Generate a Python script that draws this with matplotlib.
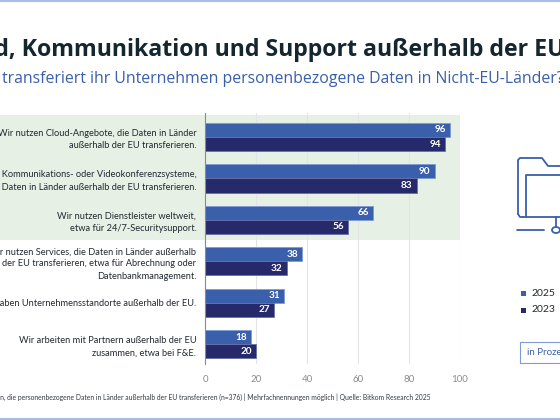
import matplotlib
matplotlib.use("Agg")
import matplotlib.pyplot as plt
from matplotlib.patches import Rectangle, Circle
from matplotlib.lines import Line2D

categories = [
    "Wir nutzen Cloud-Angebote, die Daten in Länder\naußerhalb der EU transferieren.",
    "Wir nutzen Kommunikations- oder Videokonferenzsysteme,\ndie Daten in Länder außerhalb der EU transferieren.",
    "Wir nutzen Dienstleister weltweit,\netwa für 24/7-Securitysupport.",
    "Wir nutzen Services, die Daten in Länder außerhalb\nder EU transferieren, etwa für Abrechnung oder\nDatenbankmanagement.",
    "Wir haben Unternehmensstandorte außerhalb der EU.",
    "Wir arbeiten mit Partnern außerhalb der EU\nzusammen, etwa bei F&E.",
]
values_2025 = [96, 90, 66, 38, 31, 18]
values_2023 = [94, 83, 56, 32, 27, 20]
years = ["2025", "2023"]
xticks = [0, 20, 40, 60, 80, 100]

title = "Cloud, Kommunikation und Support außerhalb der EU"
subtitle = "Wofür transferiert ihr Unternehmen personenbezogene Daten in Nicht-EU-Länder?"
footnote = ("Basis: Unternehmen, die personenbezogene Daten in Länder außerhalb der EU transferieren (n=376) | "
            "Mehrfachnennungen möglich | Quelle: Bitkom Research 2025")

C25 = "#3a5fab"
C23 = "#262a6a"
GREEN = "#e7f0e4"
DARK = "#142630"

plt.rcParams['font.family'] = ['Lato', 'DejaVu Sans']

W, H = 560, 420
fig = plt.figure(figsize=(5.6, 4.2), dpi=100)


def px(x, y):
    # figure pixel coords (y from top) -> figure fraction
    return x / W, 1 - y / H


ax = fig.add_axes([205.3 / W, 1 - 364 / H, (460 - 205.3) / W, (364 - 113) / H])
ax.set_xlim(0, 100)
ax.set_ylim(5.48, -0.58)

pos = list(range(len(categories)))
bh = 0.34
ax.barh([p - bh / 2 for p in pos], values_2025, height=bh, color=C25,
        edgecolor="#7f9bd6", linewidth=0.6, zorder=3)
ax.barh([p + bh / 2 for p in pos], values_2023, height=bh, color=C23,
        edgecolor="#6a6fa6", linewidth=0.6, zorder=3)

for p, v in zip(pos, values_2025):
    ax.text(v - 1.6, p - bh / 2, str(v), ha="right", va="center", color="white",
            fontsize=7.2, fontweight="bold", zorder=4)
for p, v in zip(pos, values_2023):
    ax.text(v - 1.6, p + bh / 2, str(v), ha="right", va="center", color="white",
            fontsize=7.2, fontweight="bold", zorder=4)

# green band behind first three categories, running to the figure's left edge
ax.add_patch(Rectangle((-81, -0.53), 181, 3.02, facecolor=GREEN, edgecolor="none",
                       zorder=0, clip_on=False))

ax.set_xticks(xticks)
ax.set_xticklabels([str(t) for t in xticks], color="#8c8c8c", fontsize=7)
ax.tick_params(axis="x", length=0, pad=8)
ax.set_yticks(pos)
ax.set_yticklabels(categories, fontsize=6.65, color="#222831", linespacing=1.45)
ax.tick_params(axis="y", length=0, pad=6.5)
for t in xticks[1:]:
    ax.axvline(t, color="#e2e4e6", lw=0.8, zorder=1)
ax.patch.set_visible(False)
for s in ["top", "right", "bottom"]:
    ax.spines[s].set_visible(False)
ax.spines["left"].set_color("#8a8a8a")
ax.spines["left"].set_linewidth(0.8)
ax.spines["left"].set_zorder(5)

# title and subtitle (cropped on both sides like the original graphic)
fig.text(*px(565, 56.5), title, ha="right", va="baseline", fontsize=16.65,
         fontweight="bold", color=DARK, family=["Open Sans", "DejaVu Sans"])
fig.text(*px(564, 83), subtitle, ha="right", va="baseline", fontsize=11.4,
         color=C25, family=["Open Sans", "DejaVu Sans"])
fig.text(*px(431, 397), footnote, ha="right", va="center", fontsize=4.85, color="#333a40")

# frame lines
fig.add_artist(Line2D([0, 1], [1 - 1 / H] * 2, color="#a8bde3", lw=1.5))
fig.add_artist(Line2D([0, 1], [1 - 418.5 / H] * 2, color="#a8bde3", lw=1.5))

# legend
for i, (yr, c) in enumerate(zip(years, [C25, C23])):
    yy = 293 + i * 17
    fig.add_artist(Rectangle(px(521, yy + 2.5), 5 / W, 5 / H, facecolor=c,
                             edgecolor="none", transform=fig.transFigure))
    fig.text(*px(531, yy), yr, ha="left", va="center", fontsize=7.5, color="#222831")

# "in Prozent" box
fig.add_artist(Rectangle(px(519.5, 363), 60 / W, 21 / H, facecolor="white",
                         edgecolor="#7f9bd6", lw=0.8, transform=fig.transFigure))
fig.text(*px(527, 352.5), "in Prozent", ha="left", va="center", fontsize=7, color=C25)

# folder / network icon
ic = dict(color=C25, lw=1.3, transform=fig.transFigure, solid_capstyle="round")


def seg(xs, ys):
    fx = [x / W for x in xs]
    fy = [1 - y / H for y in ys]
    fig.add_artist(Line2D(fx, fy, **ic))


seg([518, 518, 520, 542, 548, 562], [214, 160, 158, 158, 166, 166])
seg([518, 520, 523], [214, 217, 217])
seg([526, 526, 562], [217, 175, 175])
seg([523, 562], [217, 217])
seg([556, 556], [217, 226])
seg([517, 544], [230, 230])
fig.add_artist(Circle(px(556, 230), 4 / W, facecolor="none", edgecolor=C25, lw=1.3,
                      transform=fig.transFigure))

fig.savefig("out.png", dpi=100)
